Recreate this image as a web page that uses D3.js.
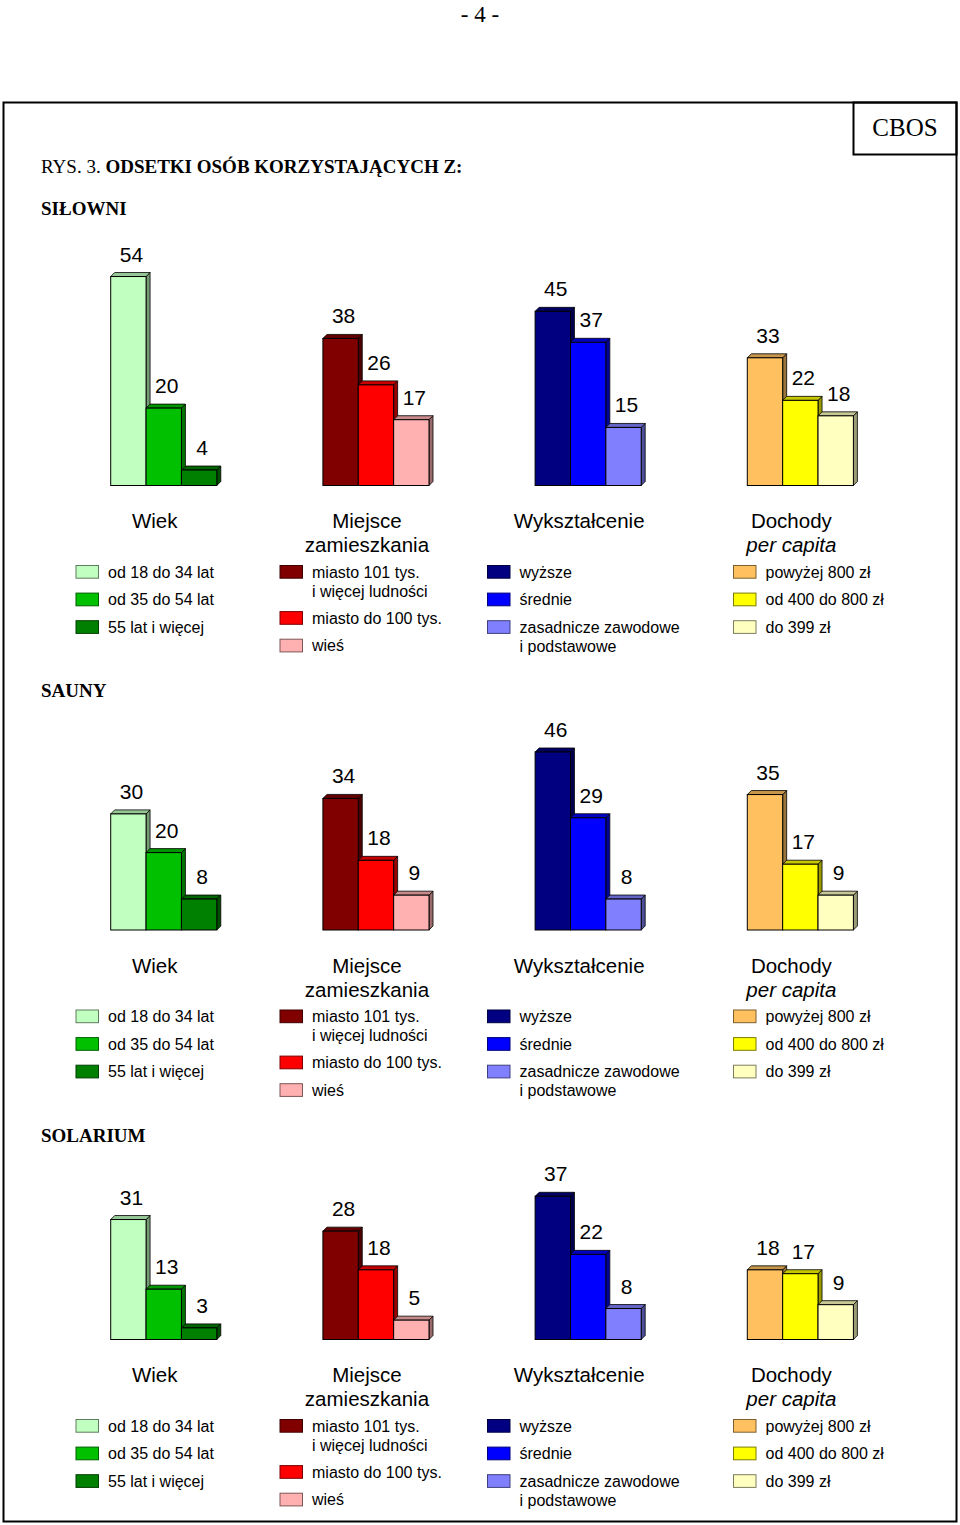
<!DOCTYPE html>
<html>
<head>
<meta charset="utf-8">
<script src="https://cdn.jsdelivr.net/npm/d3@7"></script>
<style>
  html, body { margin: 0; padding: 0; background: #fff; }
  svg { display: block; }
</style>
</head>
<body>
<svg id="chart" width="960" height="1525"></svg>
<script>
// ---------------- DATA ----------------
const sections = ["SIŁOWNI", "SAUNY", "SOLARIUM"];
const groupTitles = [["Wiek"], ["Miejsce", "zamieszkania"], ["Wykształcenie"], ["Dochody", "per capita"]];

const silownie = [[54, 20, 4], [38, 26, 17], [45, 37, 15], [33, 22, 18]];
const sauny    = [[30, 20, 8], [34, 18, 9], [46, 29, 8], [35, 17, 9]];
const solarium = [[31, 13, 3], [28, 18, 5], [37, 22, 8], [18, 17, 9]];

const wiekLabels     = [["od 18 do 34 lat"], ["od 35 do 54 lat"], ["55 lat i więcej"]];
const miejsceLabels  = [["miasto 101 tys.", "i więcej ludności"], ["miasto do 100 tys."], ["wieś"]];
const wyksztLabels   = [["wyższe"], ["średnie"], ["zasadnicze zawodowe", "i podstawowe"]];
const dochodyLabels  = [["powyżej 800 zł"], ["od 400 do 800 zł"], ["do 399 zł"]];

const wiekColors    = ["#C0FFC0", "#00C000", "#008000"];
const miejsceColors = ["#800000", "#FF0000", "#FFB0B0"];
const wyksztColors  = ["#000080", "#0000FF", "#8080FF"];
const dochodyColors = ["#FFC060", "#FFFF00", "#FFFFC0"];

// ---------------- LAYOUT ----------------
const sectionData = [silownie, sauny, solarium];
const legendLabels = [wiekLabels, miejsceLabels, wyksztLabels, dochodyLabels];
const palettes = [wiekColors, miejsceColors, wyksztColors, dochodyColors];
const baselines = [485.5, 930, 1339.5];
const sectionLabelY = [215, 697, 1142];
const legendSwatchX = [76, 280, 487.5, 733.5];

const SANS = "'Liberation Sans', Arial, sans-serif";
const SERIF = "'Liberation Serif', 'Times New Roman', serif";
const DEPTH = 4;

const svg = d3.select("#chart");

// Page number
svg.append("text").attr("x", 480).attr("y", 21.5).attr("text-anchor", "middle")
  .attr("font-family", SERIF).attr("font-size", 23).text("- 4 -");

// Outer frame
svg.append("rect").attr("x", 3.5).attr("y", 102.5).attr("width", 953).attr("height", 1419)
  .attr("fill", "none").attr("stroke", "#000").attr("stroke-width", 2);
// CBOS box
svg.append("rect").attr("x", 853.5).attr("y", 102.5).attr("width", 103).attr("height", 52)
  .attr("fill", "none").attr("stroke", "#000").attr("stroke-width", 2);
svg.append("text").attr("x", 905).attr("y", 136).attr("text-anchor", "middle")
  .attr("font-family", SERIF).attr("font-size", 25).text("CBOS");

// Title
const title = svg.append("text").attr("x", 41).attr("y", 173)
  .attr("font-family", SERIF).attr("font-size", 19);
title.append("tspan").text("RYS. 3. ");
title.append("tspan").attr("font-weight", "bold").text("ODSETKI OSÓB KORZYSTAJĄCYCH Z:");

// Scales
const xGroup = d3.scaleBand().domain(d3.range(4)).range([110.7, 853.4]).paddingInner(0.5).paddingOuter(0);
const xBar = d3.scaleBand().domain(d3.range(3)).range([0, xGroup.bandwidth()]).padding(0);
const yLen = d3.scaleLinear().domain([0, 100]).range([0, 387]);

sectionData.forEach((data, si) => {
  const B = baselines[si];
  const sec = svg.append("g");

  sec.append("text").attr("x", 41).attr("y", sectionLabelY[si])
    .attr("font-family", SERIF).attr("font-size", 19).attr("font-weight", "bold")
    .text(sections[si]);

  data.forEach((vals, gi) => {
    const g = sec.append("g");
    const gx = xGroup(gi);
    const w = xBar.bandwidth();
    vals.forEach((v, bi) => {
      const x0 = gx + xBar(bi);
      const x1 = x0 + w;
      const yt = B - yLen(v);
      const c = palettes[gi][bi];
      const top = d3.color(c).darker(0.7);
      const side = d3.color(c).darker(1.4);
      // side face
      g.append("path")
        .attr("d", `M${x1},${B} L${x1 + DEPTH},${B - DEPTH} L${x1 + DEPTH},${yt - DEPTH} L${x1},${yt} Z`)
        .attr("fill", side).attr("stroke", "#000").attr("stroke-width", 0.8).attr("stroke-linejoin", "round");
      // top face
      g.append("path")
        .attr("d", `M${x0},${yt} L${x0 + DEPTH},${yt - DEPTH} L${x1 + DEPTH},${yt - DEPTH} L${x1},${yt} Z`)
        .attr("fill", top).attr("stroke", "#000").attr("stroke-width", 0.8).attr("stroke-linejoin", "round");
      // front face
      g.append("rect").attr("x", x0).attr("y", yt).attr("width", w).attr("height", B - yt)
        .attr("fill", c).attr("stroke", "#000").attr("stroke-width", 1);
      // value label
      g.append("text").attr("x", x0 + w / 2 + 3).attr("y", yt - 15)
        .attr("text-anchor", "middle").attr("font-family", SANS).attr("font-size", 21)
        .text(v);
    });

    // legend title
    const cx = gx + xGroup.bandwidth() / 2 - 9;
    groupTitles[gi].forEach((t, li) => {
      g.append("text").attr("x", cx).attr("y", B + 42.5 + li * 24)
        .attr("text-anchor", "middle").attr("font-family", SANS).attr("font-size", 20.5)
        .attr("font-style", li === 1 && gi === 3 ? "italic" : "normal")
        .text(t);
    });

    // legend items
    let y = B + 80;
    legendLabels[gi].forEach((lines, li) => {
      const sx = legendSwatchX[gi];
      g.append("rect").attr("x", sx).attr("y", y).attr("width", 22.5).attr("height", 12.7)
        .attr("fill", palettes[gi][li]).attr("stroke", d3.color(palettes[gi][li]).darker(2)).attr("stroke-width", 1);
      lines.forEach((t, k) => {
        g.append("text").attr("x", sx + 32).attr("y", y + 12 + k * 19)
          .attr("font-family", SANS).attr("font-size", 16).text(t);
      });
      y += 27.6 + (lines.length - 1) * 18.5;
    });
  });
});
</script>
</body>
</html>
